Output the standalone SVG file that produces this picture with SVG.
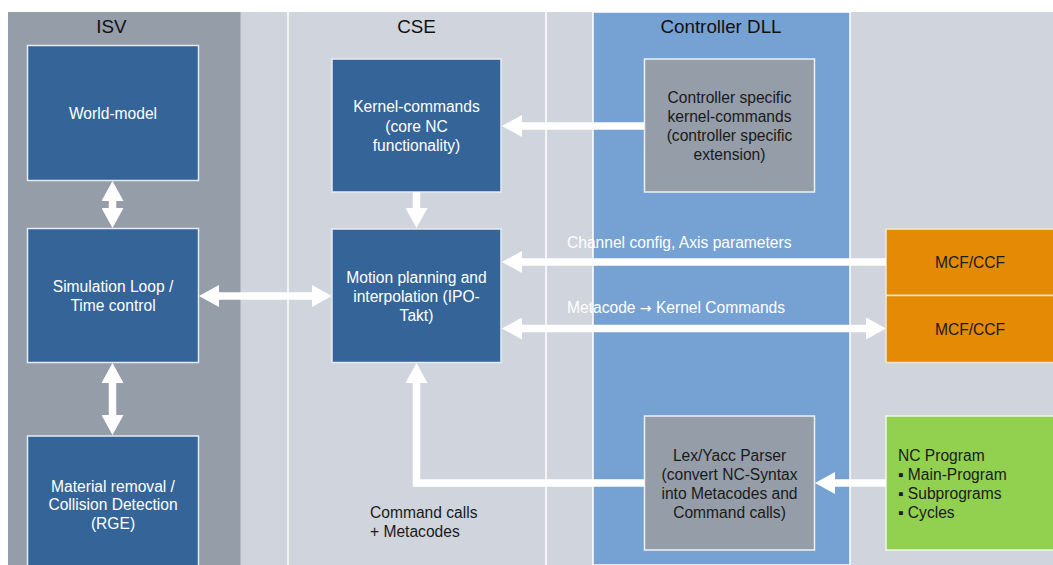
<svg xmlns="http://www.w3.org/2000/svg" width="1053" height="565" viewBox="0 0 1053 565">
<defs>
<style>
text{font-family:"Liberation Sans",Arial,sans-serif}
.hdr{font-size:18.8px;fill:#111;text-anchor:middle}
.bt{font-size:15.6px;fill:#fff;text-anchor:middle}
.dt{font-size:15.6px;fill:#1a1a1a;text-anchor:middle}
.lt{font-size:15.6px;fill:#1a1a1a}
.wl{font-size:15.6px;fill:#fff}
.sym{font-family:"DejaVu Sans",sans-serif;font-size:14px}
.blue{fill:#356598;stroke:#e6ebf2;stroke-width:1.5}
.gray{fill:#949da8;stroke:#eef0f3;stroke-width:1.5}
.orange{fill:#e58a05;stroke:#f3e6d6;stroke-width:1.5}
.green{fill:#92d050;stroke:#eef6e6;stroke-width:1.5}
.arr{fill:none;stroke:#fff;stroke-width:7.5;stroke-linejoin:miter}
</style>
<marker id="ah" markerUnits="userSpaceOnUse" markerWidth="20" markerHeight="22" refX="10" refY="11" orient="auto-start-reverse" viewBox="0 0 20 22">
<path d="M0,0 L20,11 L0,22 Z" fill="#fff"/>
</marker>
</defs>
<rect x="0" y="0" width="1053" height="565" fill="#fff"/>
<g id="lanes">
<rect x="8" y="12" width="1045" height="553" fill="#d0d4dc"/>
<rect x="8" y="12" width="232.5" height="553" fill="#949da8"/>
<line x1="288" y1="12" x2="288" y2="565" stroke="#fff" stroke-width="1.5"/>
<line x1="546" y1="12" x2="546" y2="565" stroke="#fff" stroke-width="1.5"/>
<rect x="593" y="12" width="257" height="553" fill="#76a2d3" stroke="#fff" stroke-width="1.5"/>
<text class="hdr" x="111.5" y="33">ISV</text>
<text class="hdr" x="416.5" y="33">CSE</text>
<text class="hdr" x="721" y="33">Controller DLL</text>
</g>
<g id="world-model">
<rect class="blue" x="27.5" y="45.5" width="171" height="135"/>
<text class="bt" x="113" y="119">World-model</text>
</g>
<g id="kernel-commands">
<rect class="blue" x="332" y="59" width="169" height="133"/>
<text class="bt" x="416.5" y="112">Kernel-commands</text>
<text class="bt" x="416.5" y="131.5">(core NC</text>
<text class="bt" x="416.5" y="151">functionality)</text>
</g>
<g id="controller-specific">
<rect class="gray" x="644.5" y="59" width="170" height="133"/>
<text class="dt" x="729.5" y="103">Controller specific</text>
<text class="dt" x="729.5" y="122">kernel-commands</text>
<text class="dt" x="729.5" y="141">(controller specific</text>
<text class="dt" x="729.5" y="160">extension)</text>
</g>
<g id="simulation-loop">
<rect class="blue" x="27.5" y="228.5" width="171" height="134"/>
<text class="bt" x="113" y="292">Simulation Loop /</text>
<text class="bt" x="113" y="311">Time control</text>
</g>
<g id="motion-planning">
<rect class="blue" x="332" y="229" width="169" height="133.5"/>
<text class="bt" x="416.5" y="282.5">Motion planning and</text>
<text class="bt" x="416.5" y="301.5">interpolation (IPO-</text>
<text class="bt" x="416.5" y="320.5">Takt)</text>
</g>
<g id="mcf-ccf-1">
<rect class="orange" x="886" y="229" width="170" height="66.5"/>
<text class="lt" x="970" y="268" text-anchor="middle">MCF/CCF</text>
</g>
<g id="mcf-ccf-2">
<rect class="orange" x="886" y="295.5" width="170" height="67"/>
<text class="lt" x="970" y="334.5" text-anchor="middle">MCF/CCF</text>
</g>
<g id="material-removal">
<rect class="blue" x="27.5" y="436" width="171" height="140"/>
<text class="bt" x="113" y="491.5">Material removal /</text>
<text class="bt" x="113" y="510">Collision Detection</text>
<text class="bt" x="113" y="528.5">(RGE)</text>
</g>
<g id="lex-yacc">
<rect class="gray" x="644.5" y="416" width="170" height="134"/>
<text class="dt" x="729.5" y="461">Lex/Yacc Parser</text>
<text class="dt" x="729.5" y="480">(convert NC-Syntax</text>
<text class="dt" x="729.5" y="499">into Metacodes and</text>
<text class="dt" x="729.5" y="518">Command calls)</text>
</g>
<g id="nc-program">
<rect class="green" x="886" y="416" width="170" height="134"/>
<text class="lt" x="898" y="461">NC Program</text>
<text class="lt" x="898" y="480">▪ Main-Program</text>
<text class="lt" x="898" y="499">▪ Subprograms</text>
<text class="lt" x="898" y="518">▪ Cycles</text>
</g>
<g id="connectors">
<path class="arr" d="M112.5,191 V218" marker-start="url(#ah)" marker-end="url(#ah)"/>
<path class="arr" d="M112.5,373 V425" marker-start="url(#ah)" marker-end="url(#ah)"/>
<path class="arr" d="M209,296 H322" marker-start="url(#ah)" marker-end="url(#ah)"/>
<path class="arr" d="M416.5,192 V218" marker-end="url(#ah)"/>
<path class="arr" d="M644,126 H512" marker-end="url(#ah)"/>
<path class="arr" d="M886,262 H512" marker-end="url(#ah)"/>
<path class="arr" d="M512,328.5 H876" marker-start="url(#ah)" marker-end="url(#ah)"/>
<path class="arr" d="M886,483 H825" marker-end="url(#ah)"/>
<path class="arr" d="M644,483 H416.5 V373" marker-end="url(#ah)"/>
<text class="wl" x="567" y="248">Channel config, Axis parameters</text>
<text class="wl" x="567" y="313">Metacode <tspan class="sym">→</tspan> Kernel Commands</text>
<text class="lt" x="370" y="518">Command calls</text>
<text class="lt" x="370" y="537">+ Metacodes</text>
</g>
</svg>
